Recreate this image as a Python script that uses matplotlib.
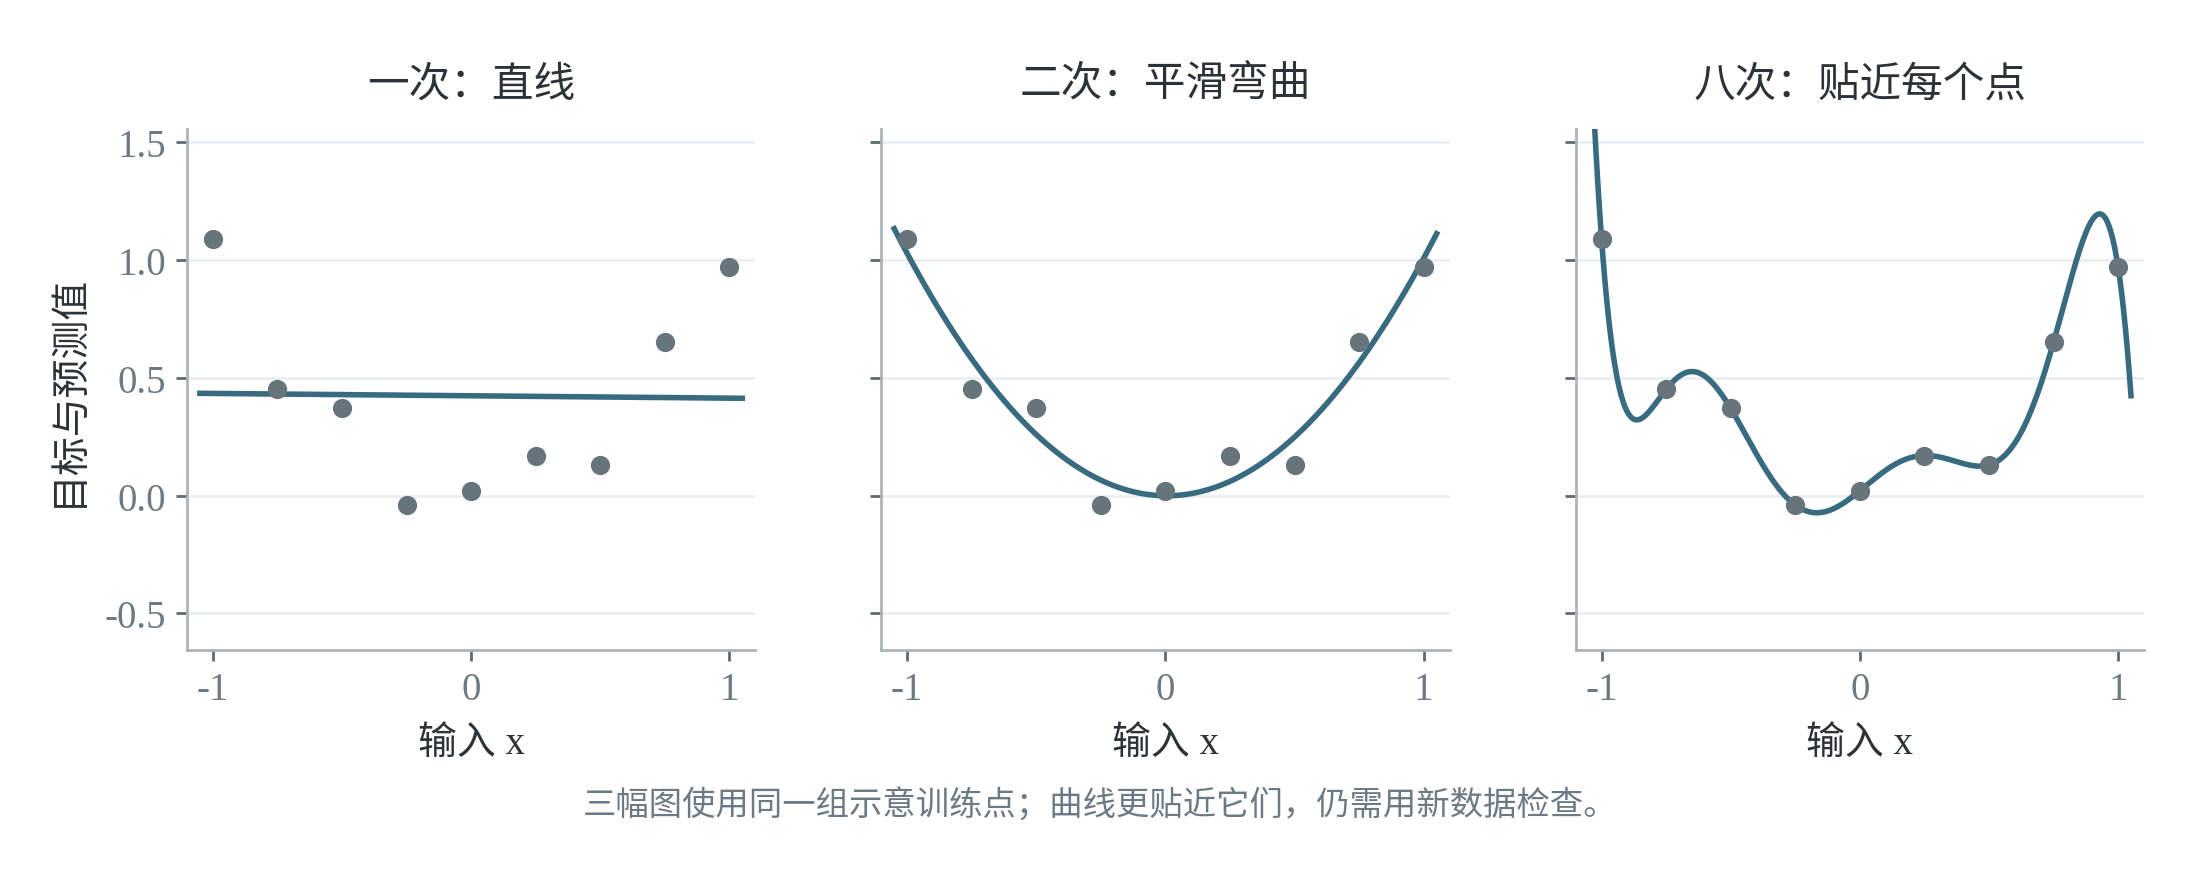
import numpy as np
import matplotlib
matplotlib.use("Agg")
import matplotlib.pyplot as plt
from matplotlib import font_manager

# training points shared by all three panels
x_train = [-1.0, -0.75, -0.5, -0.25, 0.0, 0.25, 0.5, 0.75, 1.0]
y_train = [1.09, 0.45, 0.37, -0.04, 0.02, 0.17, 0.13, 0.65, 0.97]

degrees = [1, 2, 8]
titles = ["一次：直线", "二次：平滑弯曲", "八次：贴近每个点"]
x_ticks = [-1, 0, 1]
x_tick_labels = ["-1", "0", "1"]
y_ticks = [-0.5, 0.0, 0.5, 1.0, 1.5]
y_tick_labels = ["-0.5", "0.0", "0.5", "1.0", "1.5"]

xlabel = "输入 x"
ylabel = "目标与预测值"
caption = "三幅图使用同一组示意训练点；曲线更贴近它们，仍需用新数据检查。"

LINE = "#386b80"
DOT = "#66747b"
TEXT = "#2b3338"
MUTED = "#6b7a84"
SPINE = "#a9b4bb"
GRID = "#e8edf0"


def pick_cjk():
    names = {f.name for f in font_manager.fontManager.ttflist}
    for name in ["Noto Serif CJK SC", "Source Han Serif SC", "Noto Sans CJK SC"]:
        if name in names:
            return name
    return "Noto Sans CJK SC"


def main():
    cjk = pick_cjk()
    plt.rcParams["font.family"] = ["Liberation Serif", cjk, "DejaVu Sans"]
    plt.rcParams["axes.unicode_minus"] = False

    fig, axes = plt.subplots(1, 3, figsize=(11, 4.35), dpi=200, sharey=True)
    fig.subplots_adjust(left=0.085, right=0.9745, top=0.8506, bottom=0.2517, wspace=0.222)

    xs = np.array(x_train)
    ys = np.array(y_train)
    grid_x = np.linspace(-1.05, 1.05, 600)

    for ax, deg, title in zip(axes, degrees, titles):
        coefs = np.polyfit(xs, ys, deg)
        ax.plot(grid_x, np.polyval(coefs, grid_x), color=LINE, lw=2.0, zorder=2)
        ax.scatter(xs, ys, s=48, color=DOT, zorder=3, linewidths=0)

        ax.set_xlim(-1.1, 1.1)
        ax.set_ylim(-0.655, 1.555)
        ax.set_xticks(x_ticks)
        ax.set_xticklabels(x_tick_labels)
        ax.set_yticks(y_ticks)
        ax.set_yticklabels(y_tick_labels)

        ax.set_title(title, fontsize=15, color=TEXT, pad=12)
        ax.set_xlabel(xlabel, fontsize=14, color=TEXT, labelpad=6)

        ax.grid(axis="y", color=GRID, lw=0.9, zorder=0)
        ax.set_axisbelow(True)
        for side in ["top", "right"]:
            ax.spines[side].set_visible(False)
        for side in ["left", "bottom"]:
            ax.spines[side].set_color(SPINE)
            ax.spines[side].set_linewidth(1.0)
        ax.tick_params(axis="both", colors="#5f6b72", labelcolor=MUTED,
                       labelsize=14, length=4, width=1.0, direction="out")

    axes[0].set_ylabel(ylabel, fontsize=14, color=TEXT, labelpad=6)
    for ax in axes[1:]:
        ax.tick_params(axis="y", labelleft=False)

    fig.text(0.5, 0.074, caption, ha="center", va="center", fontsize=12, color=MUTED)

    fig.savefig("out.png", dpi=200, facecolor="white")


if __name__ == '__main__':
    main()
